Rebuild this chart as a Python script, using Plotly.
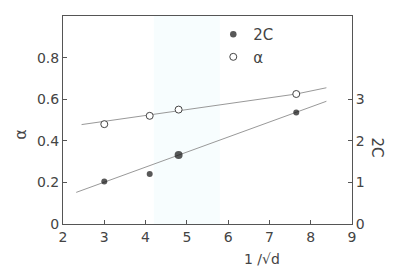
import plotly.graph_objects as go

# data
x_alpha = [3.0, 4.1, 4.8, 7.65]
alpha = [0.48, 0.52, 0.55, 0.625]
x_2c = [3.0, 4.1, 4.8, 7.65]
c2 = [1.02, 1.2, 1.66, 2.68]
# fitted lines
fit_alpha_x = [2.45, 4.8, 7.65, 8.38]
fit_alpha_y = [0.478, 0.545, 0.625, 0.655]
fit_2c_x = [2.32, 8.38]
fit_2c_y = [0.76, 2.95]

x_ticks = [2, 3, 4, 5, 6, 7, 8, 9]
y_ticks = [0, 0.2, 0.4, 0.6, 0.8]
y_ticktext = ["0", "0.2", "0.4", "0.6", "0.8"]
y2_ticks = [0, 1, 2, 3]

axc = "#555555"
txtc = "#444444"
font = dict(family="DejaVu Sans", size=13, color=txtc)

fig = go.Figure()
fig.add_trace(go.Scatter(x=fit_alpha_x, y=fit_alpha_y, mode="lines",
                         line=dict(color="#999999", width=1), showlegend=False))
fig.add_trace(go.Scatter(x=fit_2c_x, y=fit_2c_y, mode="lines", yaxis="y2",
                         line=dict(color="#999999", width=1), showlegend=False))
fig.add_trace(go.Scatter(x=x_2c, y=c2, mode="markers", yaxis="y2", name="2C",
                         marker=dict(symbol="circle", size=[6, 6, 8, 6], color="#111111",
                                     line=dict(width=0))))
fig.add_trace(go.Scatter(x=x_alpha, y=alpha, mode="markers", name="α",
                         marker=dict(symbol="circle", size=7, color="white",
                                     line=dict(color="#444444", width=1))))

fig.update_layout(
    width=393, height=273,
    margin=dict(l=63, r=41, t=16, b=49),
    plot_bgcolor="white", paper_bgcolor="white",
    font=font,
    showlegend=True,
    legend=dict(x=0.52, y=0.99, xanchor="left", yanchor="top",
                bgcolor="rgba(0,0,0,0)", font=dict(size=15, color=txtc),
                itemwidth=30, tracegroupgap=0),
    xaxis=dict(range=[2, 9], tickvals=x_ticks, showline=True, linecolor=axc, linewidth=1,
               mirror=True, ticks="inside", ticklen=4, tickcolor=axc, showgrid=False,
               zeroline=False, tickfont=dict(size=14, color=txtc)),
    yaxis=dict(range=[0, 1], tickvals=y_ticks, ticktext=y_ticktext, showline=True,
               linecolor=axc, linewidth=1, ticks="inside", ticklen=4, tickcolor=axc,
               showgrid=False, zeroline=False, tickfont=dict(size=14, color=txtc)),
    yaxis2=dict(range=[0, 5], tickvals=y2_ticks, overlaying="y", side="right",
                showline=True, linecolor=axc, linewidth=1, ticks="inside", ticklen=4,
                tickcolor=axc, showgrid=False, zeroline=False,
                tickfont=dict(size=14, color=txtc)),
    shapes=[
        dict(type="rect", xref="x", yref="paper", x0=4.2, x1=5.8, y0=0, y1=1,
             fillcolor="rgba(215,243,250,0.2)", line=dict(width=0), layer="below"),
    ],
    annotations=[
        dict(text="α", xref="paper", yref="paper", x=-0.148, y=0.43, showarrow=False,
             textangle=-90, font=dict(size=16, color=txtc), xanchor="center", yanchor="middle"),
        dict(text="2C", xref="paper", yref="paper", x=1.085, y=0.37, showarrow=False,
             textangle=90, font=dict(size=15, color=txtc), xanchor="center", yanchor="middle"),
        dict(text="1 /√d", xref="paper", yref="paper", x=0.69, y=-0.168, showarrow=False,
             font=dict(size=14, color=txtc), xanchor="center", yanchor="middle"),
    ],
)

fig.write_html("out.html")
